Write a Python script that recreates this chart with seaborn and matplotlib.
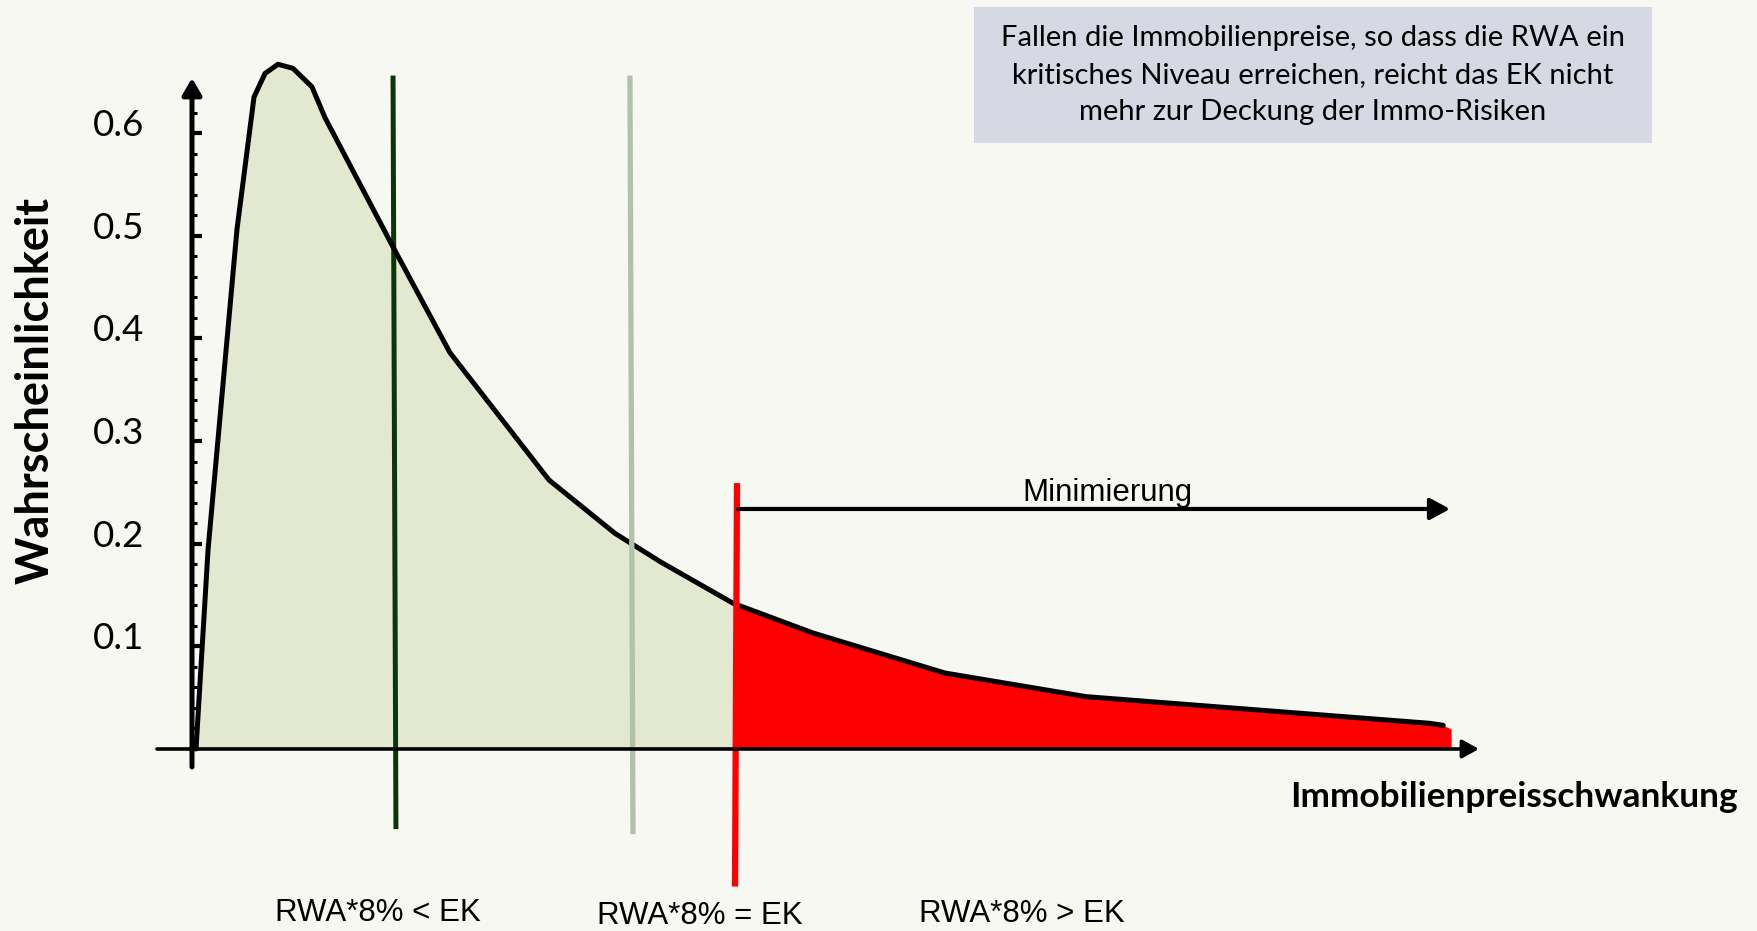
import numpy as np
import pandas as pd
import matplotlib
matplotlib.use("Agg")
import matplotlib.pyplot as plt
from matplotlib.patches import Rectangle
import seaborn as sns

# ---------------- data ----------------
curve_x = [0.036, 0.143, 0.401, 0.553, 0.651, 0.767, 0.901, 1.070, 1.186, 1.793,
           2.301, 3.184, 3.773, 4.183, 4.825, 5.539, 6.716, 7.974, 11.042, 11.16]
curve_y = [0.000, 0.194, 0.506, 0.635, 0.658, 0.667, 0.663, 0.645, 0.615, 0.489,
           0.386, 0.262, 0.210, 0.182, 0.142, 0.113, 0.074, 0.051, 0.025, 0.023]

threshold_x = [1.806, 3.92, 4.852]          # RWA*8% < EK, = EK, > EK boundaries
region_labels = ["RWA*8% < EK", "RWA*8% = EK", "RWA*8% > EK"]
y_ticks = [0.1, 0.2, 0.3, 0.4, 0.5, 0.6]
y_tick_labels = ["0.1", "0.2", "0.3", "0.4", "0.5", "0.6"]
box_lines = ["Fallen die Immobilienpreise, so dass die RWA ein",
             "kritisches Niveau erreichen, reicht das EK nicht",
             "mehr zur Deckung der Immo-Risiken"]
y_title = "Wahrscheinlichkeit"
x_title = "Immobilienpreisschwankung"
arrow_text = "Minimierung"

df = pd.DataFrame({"x": curve_x, "y": curve_y})

# ---------------- style ----------------
BG = "#F7F8F1"
sns.set_theme(style="white")
plt.rcParams["font.family"] = ["Lato", "DejaVu Sans"]
ARIAL = ["Liberation Sans", "DejaVu Sans"]

fig = plt.figure(figsize=(17.58, 9.31), dpi=100, facecolor=BG)
ax = fig.add_axes([0, 0, 1, 1])
ax.set_facecolor(BG)
ax.set_xlim(-1.7124, 13.967)
ax.set_ylim(-0.1773, 0.7296)
for s in ax.spines.values():
    s.set_visible(False)
ax.spines["left"].set_position(("data", 0))
ax.spines["bottom"].set_position(("data", 0))

# fills
xs = np.array(curve_x)
ys = np.array(curve_y)
xr = threshold_x[2]
y_at_r = np.interp(xr, xs, ys)
m = xs < xr
xl = np.concatenate([xs[m], [xr]])
yl = np.concatenate([ys[m], [y_at_r]])
xrr = np.concatenate([[xr], xs[~m], [11.23]])
yrr = np.concatenate([[y_at_r], ys[~m], [0.0195]])
ax.fill_between(xl, yl, 0, color="#E2E9D0", lw=0, zorder=1)
ax.fill_between(xrr, yrr, 0, color="#FF0000", lw=0, zorder=1.5)

# threshold lines (slightly slanted like the reference)
ax.plot([threshold_x[0] - 0.013, threshold_x[0] + 0.013], [0.656, -0.078],
        color="#0B360B", lw=3.6, solid_capstyle="butt", zorder=2.5)
ax.plot([threshold_x[1] - 0.014, threshold_x[1] + 0.013], [0.656, -0.083],
        color="#B0C2AC", lw=3.8, solid_capstyle="butt", zorder=4)

# density curve
sns.lineplot(data=df, x="x", y="y", ax=ax, color="black", lw=3.6,
             sort=False, zorder=3)
ax.lines[-1].set_solid_capstyle("round")
ax.lines[-1].set_solid_joinstyle("round")
ax.set_xlabel("")
ax.set_ylabel("")

ax.plot([threshold_x[2] + 0.009, threshold_x[2] - 0.009], [0.259, -0.134],
        color="#FF0000", lw=4.5, solid_capstyle="butt", zorder=5)

# axes arrows
ax.annotate("", xy=(11.479, 0.0), xytext=(-0.312, 0.0),
            arrowprops=dict(arrowstyle="-|>,head_length=1.0,head_width=0.55",
                            mutation_scale=10, lw=2.6, color="black",
                            shrinkA=0, shrinkB=0), zorder=6)
ax.annotate("", xy=(0.0, 0.6536), xytext=(0.0, -0.0175),
            arrowprops=dict(arrowstyle="-|>,head_length=1.0,head_width=0.58",
                            mutation_scale=10, lw=3.6, color="black",
                            shrinkA=0, shrinkB=0), zorder=6)

# Minimierung arrow
ax.annotate("", xy=(11.22, 0.2338), xytext=(4.870, 0.2338),
            arrowprops=dict(arrowstyle="-|>,head_length=1.2,head_width=0.65",
                            mutation_scale=10, lw=3.0, color="black",
                            shrinkA=0, shrinkB=0), zorder=6)
ax.text(8.161, 0.2416, arrow_text, ha="center", va="baseline",
        fontsize=22.5, family=ARIAL, color="black")

# y ticks (marks from the axis, labels placed slightly above the marks)
ax.set_xticks([])
ax.set_yticks(y_ticks)
ax.set_yticklabels([])
minor = [v for v in np.round(np.arange(0.02, 0.65, 0.02), 2)
         if not np.isclose(v * 10, round(v * 10))]
ax.set_yticks(minor, minor=True)
ax.tick_params(axis="y", which="major", direction="in", length=7.2, width=3.0,
               color="black", left=True)
ax.tick_params(axis="y", which="minor", direction="in", length=3.4, width=2.2,
               color="black", left=True)
for v, t in zip(y_ticks, y_tick_labels):
    ax.annotate(t, xy=(0, v), xytext=(-34.5, 5.5), textcoords="offset points",
                ha="right", va="center", fontsize=26.5, color="black")

# axis titles
ax.text(-1.391, 0.3497, y_title, rotation=90, ha="center", va="center",
        fontsize=32.5, fontweight="bold", color="black")
ax.text(13.789, -0.0565, x_title, ha="right", va="baseline",
        fontsize=25.4, fontweight="bold", color="black")

# region labels
label_x = [1.654, 4.531, 7.398]
label_y = [-0.1675, -0.1705, -0.169]
for t, lx, ly in zip(region_labels, label_x, label_y):
    ax.text(lx, ly, t, ha="center", va="baseline", fontsize=22.5,
            family=ARIAL, color="black")

# info box
ax.add_patch(Rectangle((6.975, 0.5904), 6.047, 0.1324, facecolor="#D6D9E4",
                       edgecolor="none", zorder=6))
for t, by in zip(box_lines, [0.6845, 0.6485, 0.6125]):
    ax.text(9.998, by, t, ha="center", va="baseline", fontsize=21,
            color="black", zorder=7)

fig.savefig("out.png", dpi=100, facecolor=BG)
